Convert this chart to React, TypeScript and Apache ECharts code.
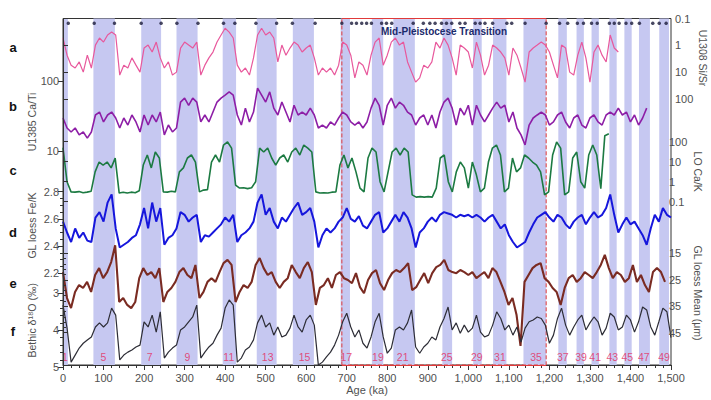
import React, { useEffect, useRef } from "react";
import * as echarts from "echarts";

// ---- data (10 ka steps, starting at 0 ka) ----
const STEP_KA = 10;

// a: U1308 Si/Sr (log, reversed) 0..1370 ka
const SI_SR = [
  0.53, 2.3, 5.4, 6.9, 4.1, 9.8, 2.3, 6.9, 0.97, 0.53,
  0.75, 0.41, 0.32, 0.41, 12.6, 5.4, 6.9, 2.9, 5.4, 9.8,
  1.25, 0.97, 1.76, 0.75, 2.9, 6.9, 4.1, 12.6, 9.8, 1.25,
  0.75, 0.97, 1.25, 0.75, 12.6, 5.4, 2.9, 1.76, 0.75, 0.41,
  0.23, 0.32, 0.53, 5.4, 9.8, 6.9, 12.6, 2.9, 0.41, 0.23,
  0.41, 0.32, 0.53, 4.1, 0.97, 2.3, 1.25, 0.75, 0.97, 1.76,
  1.25, 0.97, 2.9, 12.6, 6.9, 9.8, 6.9, 12.6, 5.4, 0.75,
  0.97, 2.3, 16, 4.1, 5.4, 12.6, 2.3, 0.75, 0.53, 5.4,
  2.3, 0.75, 0.53, 0.97, 0.75, 4.1, 9.8, 23, 16, 5.4,
  6.9, 4.1, 0.75, 1.25, 0.53, 0.97, 2.9, 12.6, 0.97, 1.25,
  1.76, 6.9, 0.75, 2.3, 12.6, 5.4, 0.97, 1.25, 1.76, 2.9,
  12.6, 1.25, 2.3, 6.9, 23, 1.76, 1.25, 0.97, 0.75, 0.97,
  1.76, 5.4, 16, 0.97, 1.25, 9.8, 12.6, 2.3, 0.75, 2.9,
  23, 1.76, 0.97, 2.3, 4.1, 0.41, 1.25, 1.76,
];

// b: U1385 Ca/Ti (log) 0..1440 ka
const CA_TI = [
  29.6, 21.3, 18.7, 21.3, 17, 18.7, 15.3, 18.7, 32.7, 36,
  26, 32.7, 36, 29.6, 21.3, 29.6, 23.5, 32.7, 26, 18.7,
  32.7, 23.5, 32.7, 26, 36, 17, 23.5, 18.7, 21.3, 50,
  57, 45, 57, 50, 26, 32.7, 26, 36, 50, 57,
  63, 70, 63, 32.7, 23.5, 41, 26, 36, 79, 63,
  50, 70, 41, 32.7, 50, 36, 26, 45, 32.7, 36,
  32.7, 41, 32.7, 21.3, 23.5, 21.3, 26, 23.5, 29.6, 36,
  32.7, 26, 23.5, 26, 21.3, 26, 41, 57, 45, 23.5,
  45, 57, 41, 50, 45, 36, 32.7, 23.5, 29.6, 32.7,
  23.5, 32.7, 21.3, 36, 50, 57, 41, 23.5, 41, 32.7,
  45, 23.5, 45, 32.7, 26, 32.7, 41, 50, 41, 45,
  26, 36, 21.3, 17, 12.2, 23.5, 29.6, 32.7, 36, 32.7,
  23.5, 26, 32.7, 36, 26, 21.3, 29.6, 32.7, 23.5, 21.3,
  29.6, 32.7, 26, 23.5, 32.7, 36, 32.7, 41, 32.7, 36,
  26, 32.7, 23.5, 29.6, 41,
];

// c: LO Ca/K (log) 0..1360 ka
const CA_K = [
  50, 1.0, 0.31, 0.3, 0.32, 0.28, 0.3, 0.33, 3.1, 9.6,
  6.8, 9.6, 4.9, 15, 0.27, 0.3, 0.27, 0.3, 0.28, 0.35,
  6.8, 21.6, 4.9, 30.5, 15.3, 0.31, 0.3, 0.33, 0.31, 3.1,
  4.9, 15.3, 21.6, 9.6, 0.31, 0.38, 0.4, 9.6, 21.6, 9.6,
  68, 97, 48, 0.68, 0.48, 0.5, 0.45, 0.5, 1.0, 48,
  30.5, 48, 15.3, 6.8, 15.3, 21.6, 9.6, 30.5, 48, 21.6,
  68, 48, 30.5, 0.31, 0.27, 0.28, 0.27, 0.3, 0.31, 6.8,
  21.6, 4.9, 15.3, 3.1, 0.48, 0.31, 15.3, 48, 30.5, 1.0,
  0.31, 3.1, 30.5, 48, 21.6, 48, 30.5, 0.22, 0.17, 0.18,
  0.17, 0.18, 0.17, 0.48, 15.3, 21.6, 1.0, 0.31, 3.1, 9.6,
  4.9, 0.48, 9.6, 2.2, 0.31, 0.48, 9.6, 48, 68, 21.6,
  0.31, 0.48, 15.3, 3.1, 4.9, 21.6, 15.3, 9.6, 6.8, 3.1,
  0.22, 0.31, 21.6, 97, 48, 0.22, 0.31, 15.3, 30.5, 1.0,
  0.48, 21.6, 68, 21.6, 0.45, 200, 250,
];

// d: GL loess Fe/K 0..1500 ka
const FE_K = [
  2.58, 2.5, 2.43, 2.53, 2.46, 2.5, 2.44, 2.43, 2.61, 2.65,
  2.58, 2.72, 2.78, 2.53, 2.39, 2.41, 2.43, 2.46, 2.48, 2.56,
  2.68, 2.53, 2.72, 2.58, 2.68, 2.41, 2.46, 2.48, 2.53, 2.65,
  2.63, 2.58, 2.61, 2.63, 2.43, 2.48, 2.47, 2.5, 2.53, 2.56,
  2.61, 2.58, 2.63, 2.43, 2.48, 2.5, 2.53, 2.58, 2.72, 2.78,
  2.63, 2.68, 2.58, 2.53, 2.61, 2.58, 2.63, 2.68, 2.72, 2.63,
  2.65, 2.68, 2.58, 2.39, 2.48, 2.53, 2.5, 2.53, 2.58, 2.61,
  2.68, 2.6, 2.58, 2.62, 2.55, 2.53, 2.58, 2.63, 2.65, 2.5,
  2.53, 2.58, 2.63, 2.58, 2.65, 2.61, 2.53, 2.39, 2.5, 2.53,
  2.58, 2.61, 2.58, 2.63, 2.65, 2.64, 2.63, 2.61, 2.63, 2.62,
  2.63, 2.61, 2.63, 2.61, 2.58, 2.61, 2.63, 2.58, 2.53, 2.56,
  2.48, 2.43, 2.39, 2.41, 2.43, 2.5, 2.56, 2.61, 2.63, 2.65,
  2.61, 2.58, 2.63, 2.61, 2.56, 2.53, 2.58, 2.61, 2.63, 2.56,
  2.61, 2.65, 2.61, 2.63, 2.68, 2.78, 2.63, 2.5, 2.56, 2.61,
  2.56, 2.58, 2.53, 2.48, 2.41, 2.53, 2.63, 2.58, 2.68, 2.63, 2.61,
];

// e: GL loess mean grain size (um, reversed) 0..1500 ka
const GRAIN = [
  22.1, 31.9, 35.7, 29.6, 27, 28.1, 25.8, 29.6, 23.2, 20.6,
  24.4, 22.1, 18.3, 12, 33.4, 31.9, 34.5, 35.7, 33.4, 24.4,
  20.6, 23.2, 22.1, 24.4, 20.6, 33.4, 29.6, 28.1, 25.8, 22.1,
  20.6, 23.2, 24.4, 19.4, 31.9, 29.6, 25.8, 24.4, 25.8, 22.1,
  18.7, 17.5, 19.4, 33.4, 29.6, 27, 28.1, 25.8, 19.4, 16.8,
  20.6, 23.2, 22.1, 25.8, 28.1, 25.8, 24.4, 19.4, 22.1, 24.4,
  20.6, 18.3, 22.1, 34.5, 28.1, 27, 24.4, 28.1, 23.2, 22.1,
  24.4, 25.1, 26.3, 22.5, 27.8, 30.1, 25.1, 22.5, 21.3, 26.3,
  28.9, 25.1, 22.5, 21.3, 22.1, 20.6, 18.7, 28.9, 27.8, 25.1,
  22.5, 26.3, 22.5, 20.2, 19.4, 17.5, 21.3, 22.1, 22.5, 21.3,
  22.1, 23.2, 22.1, 24.4, 23.2, 22.1, 24.4, 20.6, 22.1, 25.8,
  29.6, 34.5, 31.9, 38.2, 50, 25.8, 23.2, 20.6, 19.4, 18.7,
  24.4, 25.8, 28.1, 29.6, 34.5, 28.1, 24.4, 23.2, 25.8, 24.4,
  22.1, 23.2, 24.4, 22.1, 19.4, 15.6, 20.6, 24.4, 22.1, 23.2,
  25.8, 24.4, 19.4, 25.8, 23.2, 27, 29.6, 22.1, 20.6, 22.1, 25.8,
];

// f: benthic d18O (permil, reversed) 0..1500 ka
const D18O = [
  3.32, 3.94, 4.86, 4.67, 4.48, 4.35, 4.26, 4.18, 3.91, 3.8,
  3.91, 3.8, 3.4, 3.59, 4.8, 4.67, 4.59, 4.53, 4.45, 4.4,
  3.77, 3.91, 3.59, 4.05, 3.5, 4.75, 4.59, 4.48, 4.4, 3.99,
  3.91, 3.77, 3.64, 3.32, 4.75, 4.59, 4.45, 4.35, 4.13, 3.94,
  3.4, 3.18, 3.32, 4.86, 4.75, 4.53, 4.45, 4.26, 3.8, 3.59,
  3.91, 3.8, 4.13, 3.91, 4.18, 4.13, 3.94, 3.59, 3.91, 4.05,
  3.72, 3.59, 3.86, 4.94, 4.86, 4.72, 4.59, 4.4, 4.13, 3.77,
  3.54, 3.91, 4.18, 3.99, 4.35, 4.48, 4.18, 3.77, 3.54, 4.18,
  4.62, 4.48, 3.99, 3.91, 3.99, 3.8, 3.45, 4.45, 4.62, 4.45,
  4.35, 4.18, 4.26, 3.91, 3.68, 3.37, 3.99, 3.8, 4.08, 3.86,
  4.05, 3.94, 3.59, 4.05, 4.18, 4.13, 3.86, 3.5, 3.68, 3.99,
  3.86, 4.13, 3.91, 4.32, 3.94, 3.77, 3.72, 3.64, 3.68, 3.86,
  4.35, 4.13, 3.68, 3.4, 3.86, 4.13, 3.91, 3.72, 3.59, 3.99,
  3.8, 3.64, 3.77, 4.13, 3.94, 3.54, 3.64, 3.99, 3.91, 3.59,
  3.72, 4.05, 3.77, 3.37, 3.45, 3.91, 4.13, 3.77, 3.4, 3.5, 4.2,
];

// interglacial bands [start, end] ka
const BANDS: [number, number][] = [
  [0, 12], [75, 128], [193, 242], [280, 332], [394, 427], [478, 527], [567, 619],
  [685, 708], [762, 790], [815, 868], [936, 960], [1012, 1033], [1061, 1094],
  [1136, 1192], [1222, 1243], [1267, 1285], [1304, 1322], [1348, 1366],
  [1385, 1403], [1421, 1448], [1471, 1495],
];

// MIS labels [text, age]
const MIS_LABELS: [string, number][] = [
  ["1", 5], ["5", 100], ["7", 214], ["9", 307], ["11", 409], ["13", 505], ["15", 596],
  ["17", 699], ["19", 777], ["21", 838], ["25", 947], ["29", 1021], ["31", 1078],
  ["35", 1167], ["37", 1233], ["39", 1278], ["41", 1313], ["43", 1355], ["45", 1392],
  ["47", 1433], ["49", 1483],
];

// tie-point dots along the top (ka)
const TIE_POINTS = [
  13, 77, 127, 193, 242, 281, 333, 396, 424, 476, 527, 566, 622, 688, 712, 724, 737,
  749, 761, 786, 798, 811, 864, 889, 905, 918, 934, 946, 959, 979, 992, 1017, 1029,
  1041, 1060, 1095, 1107, 1140, 1192, 1225, 1245, 1269, 1284, 1304, 1318, 1348,
  1360, 1372, 1389, 1403, 1422, 1455, 1471, 1488,
];

const MPT: [number, number] = [688, 1192];

const X_TICKS = { min: 0, max: 1500, interval: 100 };

const FONT = "Liberation Sans, Arial, sans-serif";
const AXIS_COLOR = "#333";
const LABEL_COLOR = "#505050";

function pairs(vals: number[]) {
  return vals.map((v, i) => [i * STEP_KA, v]);
}

const cleanNum = (v: number) => String(Number(Number(v).toPrecision(3)));

export default function App() {
  const ref = useRef<HTMLDivElement>(null);

  useEffect(() => {
    document.body.style.margin = "0";
    const chart = echarts.init(ref.current!, null, { renderer: "svg" });

    const L = 63;
    const W = 608;
    const panels = [
      { top: 18.5, height: 80.8 }, // a
      { top: 81, height: 70 }, // b
      { top: 141.7, height: 60 }, // c
      { top: 191.7, height: 81.6 }, // d
      { top: 253.3, height: 79.4 }, // e
      { top: 293.3, height: 74 }, // f
    ];

    const grids: any[] = [
      { left: L, top: 18.5, width: W, height: 356.5, show: true, borderColor: AXIS_COLOR, borderWidth: 1, backgroundColor: "transparent" },
      ...panels.map((p) => ({ left: L, top: p.top, width: W, height: p.height, show: false })),
    ];

    const xAxes: any[] = [
      {
        gridIndex: 0,
        type: "value",
        min: X_TICKS.min,
        max: X_TICKS.max,
        interval: X_TICKS.interval,
        position: "bottom",
        axisLine: { show: true, lineStyle: { color: AXIS_COLOR } },
        axisTick: { show: true, length: 5, lineStyle: { color: AXIS_COLOR } },
        minorTick: { show: true, splitNumber: 5, length: 3, lineStyle: { color: AXIS_COLOR } },
        splitLine: { show: false },
        axisLabel: {
          color: LABEL_COLOR,
          fontSize: 11,
          margin: 7,
          fontFamily: FONT,
          formatter: (v: number) => v.toLocaleString("en-US"),
        },
        name: "Age (ka)",
        nameLocation: "middle",
        nameGap: 19,
        nameMoveOverlap: false,
        nameTextStyle: { color: LABEL_COLOR, fontSize: 11, fontFamily: FONT },
      },
      ...panels.map((_, i) => ({
        gridIndex: i + 1,
        type: "value",
        min: X_TICKS.min,
        max: X_TICKS.max,
        show: false,
      })),
    ];

    const commonY = (side: "left" | "right", pad: number[] = [0, 0, 0, 0]) => ({
      position: side,
      z: 8,
      axisLine: { show: true, lineStyle: { color: AXIS_COLOR } },
      axisTick: { show: true, length: 5, lineStyle: { color: AXIS_COLOR } },
      splitLine: { show: false },
      axisLabel: {
        show: true,
        inside: false,
        color: LABEL_COLOR,
        fontSize: 11,
        margin: 4,
        fontFamily: FONT,
        hideOverlap: false,
        showMinLabel: true,
        showMaxLabel: true,
        formatter: cleanNum,
      },
      nameLocation: "middle",
      nameRotate: side === "left" ? 90 : -90,
      nameGap: side === "left" ? 26 : 27,
      nameMoveOverlap: false,
      nameTextStyle: { color: LABEL_COLOR, fontSize: 10.5, fontFamily: FONT, padding: pad },
    });
    const minor = (n: number) => ({ show: true, splitNumber: n, length: 3, lineStyle: { color: AXIS_COLOR } });

    const yAxes: any[] = [
      { gridIndex: 0, type: "value", min: 0, max: 100, show: false },
      { ...commonY("right"), gridIndex: 1, type: "log", logBase: 10, min: 0.1, max: 100, inverse: true },
      { ...commonY("left", [0, 12, 0, 0]), gridIndex: 2, type: "log", logBase: 10, min: 10, max: 100, name: "U1385 Ca/Ti" },
      { ...commonY("right"), gridIndex: 3, type: "log", logBase: 10, min: 0.1, max: 100, name: "LO Ca/K" },
      (() => {
        const base: any = commonY("left", [0, 0, 0, 14]);
        return {
          ...base, gridIndex: 4, type: "value", min: 2.2, max: 2.8, interval: 0.2,
          minorTick: minor(4), name: "GL loess Fe/K",
          axisLabel: { ...base.axisLabel, formatter: (v: number) => Number(v).toFixed(1) },
        };
      })(),
      { ...commonY("right"), gridIndex: 5, type: "value", min: 15, max: 45, interval: 10, inverse: true, minorTick: minor(5), name: "GL loess Mean (μm)" },
      { ...commonY("left", [0, 0, 0, 20]), gridIndex: 6, type: "value", min: 3, max: 5, interval: 1, inverse: true, minorTick: minor(5), name: "Bethic δ¹⁸O (‰)" },
    ];

    const lineSeries = (idx: number, data: number[], color: string, width: number) => ({
      type: "line",
      xAxisIndex: idx,
      yAxisIndex: idx,
      data: pairs(data),
      showSymbol: false,
      symbol: "none",
      clip: false,
      silent: true,
      z: 3,
      lineStyle: { color, width },
    });

    const letters = [
      ["a", 47], ["b", 106], ["c", 170], ["d", 232], ["e", 283], ["f", 331],
    ].map(([t, y]) => ({
      type: "text",
      x: 13,
      y: y as number,
      silent: true,
      style: {
        text: t as string,
        fill: "#111",
        fontSize: 13,
        fontWeight: "bold",
        fontFamily: FONT,
        align: "center",
        verticalAlign: "middle",
      },
    }));

    const option: any = {
      animation: false,
      textStyle: { fontFamily: FONT },
      grid: grids,
      xAxis: xAxes,
      yAxis: yAxes,
      series: [
        {
          type: "line",
          xAxisIndex: 0,
          yAxisIndex: 0,
          data: [],
          silent: true,
          z: 1,
          markArea: {
            silent: true,
            itemStyle: { color: "#c6c8f1" },
            data: BANDS.map(([s, e]) => [{ xAxis: s }, { xAxis: e }]),
          },
        },
        lineSeries(1, SI_SR, "#e8589c", 1.2),
        lineSeries(2, CA_TI, "#8d1ea6", 1.6),
        lineSeries(3, CA_K, "#1c7a42", 1.6),
        lineSeries(4, FE_K, "#1616dc", 2),
        lineSeries(5, GRAIN, "#7a2b22", 2.1),
        lineSeries(6, D18O, "#2d2d36", 1.2),
        {
          type: "line",
          xAxisIndex: 0,
          yAxisIndex: 0,
          data: [],
          silent: true,
          z: 5,
          markArea: {
            silent: true,
            itemStyle: { color: "rgba(0,0,0,0)", borderColor: "#e03a3a", borderWidth: 1, borderType: "dashed" },
            label: {
              show: true,
              position: "insideTop",
              distance: 8,
              color: "#1b2a6b",
              fontWeight: "bold",
              fontSize: 10,
              fontFamily: FONT,
            },
            data: [[{ xAxis: MPT[0], name: "Mid-Pleistocese Transition" }, { xAxis: MPT[1] }]],
          },
          markLine: {
            silent: true,
            symbol: ["none", "none"],
            label: { show: false },
            lineStyle: { color: "#e03a3a", type: "solid", width: 1.2 },
            data: [
              [{ coord: [MPT[0], 100] }, { coord: [MPT[1], 100] }],
              [{ coord: [MPT[0], 0] }, { coord: [MPT[1], 0] }],
            ],
          },
        },
        {
          type: "scatter",
          xAxisIndex: 0,
          yAxisIndex: 0,
          silent: true,
          z: 6,
          symbolSize: 3.5,
          itemStyle: { color: "#1a1a3a" },
          data: TIE_POINTS.map((a) => [a, 98.6]),
        },
        {
          type: "scatter",
          xAxisIndex: 0,
          yAxisIndex: 0,
          silent: true,
          z: 6,
          symbolSize: 1,
          itemStyle: { color: "rgba(0,0,0,0)" },
          label: {
            show: true,
            position: "inside",
            formatter: "{b}",
            color: "#e52b5c",
            fontSize: 10.5,
            fontFamily: FONT,
          },
          data: MIS_LABELS.map(([n, a]) => ({ name: n, value: [a, 2.3] })),
        },
      ],
      graphic: [
        ...letters,
        {
          type: "text",
          x: 703,
          y: 58,
          rotation: -Math.PI / 2,
          silent: true,
          style: {
            text: "U1308 Si/Sr",
            fill: LABEL_COLOR,
            fontSize: 10.5,
            fontFamily: FONT,
            align: "center",
            verticalAlign: "middle",
          },
        },
      ],
    };

    chart.setOption(option);
    return () => chart.dispose();
  }, []);

  return <div ref={ref} style={{ width: 711, height: 400 }} />;
}
